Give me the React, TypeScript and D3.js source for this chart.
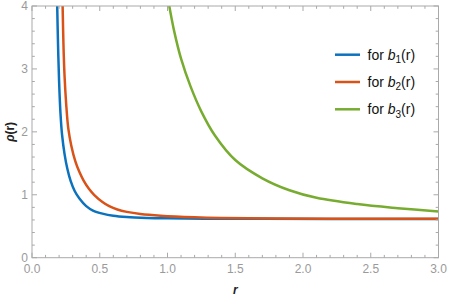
import { useEffect, useRef } from "react";
import * as d3 from "d3";

type Pt = [number, number];

// (r, rho)
const seriesB1: Pt[] = [
  [0.186, 4.0], [0.192, 3.4], [0.2, 2.8], [0.21, 2.3], [0.222, 1.95], [0.24, 1.65],
  [0.26, 1.42], [0.285, 1.22], [0.315, 1.06], [0.35, 0.94], [0.4, 0.82], [0.45, 0.75],
  [0.52, 0.7], [0.6, 0.665], [0.7, 0.645], [0.85, 0.632], [1.0, 0.626], [1.3, 0.62],
  [1.7, 0.618], [2.2, 0.617], [3.0, 0.616]
];
const seriesB2: Pt[] = [
  [0.226, 4.0], [0.232, 3.4], [0.24, 2.9], [0.252, 2.45], [0.268, 2.05], [0.29, 1.78],
  [0.32, 1.53], [0.35, 1.36], [0.38, 1.23], [0.42, 1.095], [0.46, 0.995], [0.52, 0.885],
  [0.57, 0.818], [0.63, 0.765], [0.7, 0.728], [0.8, 0.695], [0.95, 0.668], [1.2, 0.643],
  [1.4, 0.632], [1.8, 0.623], [2.4, 0.619], [3.0, 0.618]
];
const seriesB3: Pt[] = [
  [1.013, 4.0], [1.05, 3.593], [1.1, 3.163], [1.17, 2.722], [1.25, 2.322], [1.35, 1.942],
  [1.5, 1.552], [1.7, 1.262], [1.9, 1.072], [2.1, 0.952], [2.4, 0.853], [2.7, 0.787],
  [3.0, 0.733]
];

const legendSubs = ["1", "2", "3"];
const colors = ["#0c72bd", "#d95319", "#77ac30"];
const xMajor = [0, 0.5, 1, 1.5, 2, 2.5, 3];
const yMajor = [0, 1, 2, 3, 4];

export default function App() {
  const ref = useRef<SVGSVGElement | null>(null);

  useEffect(() => {
    const svg = d3.select(ref.current);
    const W = 449, H = 298;
    const m = { l: 32, r: 10.5, t: 6, b: 40.3 };
    svg.selectAll("*").remove();

    const x = d3.scaleLinear().domain([0, 3]).range([m.l, W - m.r]);
    const y = d3.scaleLinear().domain([0, 4]).range([H - m.b, m.t]);

    const frame = "#a9a9a9";
    const labelColor = "#9a9a9a";
    const font = "'Liberation Sans', Arial, sans-serif";

    svg.append("defs").append("clipPath").attr("id", "plotclip")
      .append("rect")
      .attr("x", m.l).attr("y", m.t)
      .attr("width", W - m.l - m.r).attr("height", H - m.t - m.b);

    // curves
    const line = d3.line<Pt>()
      .x(d => x(d[0]))
      .y(d => y(d[1]))
      .curve(d3.curveCatmullRom.alpha(0.5));

    const g = svg.append("g").attr("clip-path", "url(#plotclip)");
    [seriesB1, seriesB2, seriesB3].forEach((s, i) => {
      g.append("path")
        .datum(s)
        .attr("d", line)
        .attr("fill", "none")
        .attr("stroke", colors[i])
        .attr("stroke-width", 2.5)
        .attr("stroke-linejoin", "round");
    });

    // frame
    svg.append("rect")
      .attr("x", m.l).attr("y", m.t)
      .attr("width", W - m.l - m.r).attr("height", H - m.t - m.b)
      .attr("fill", "none")
      .attr("stroke", frame)
      .attr("stroke-width", 1);

    const x0 = x(0), x1 = x(3), y0 = y(0), y1 = y(4);
    const ticks = svg.append("g").attr("stroke", frame).attr("stroke-width", 1);

    // x ticks on bottom and top
    d3.range(0, 31).map(i => i / 10).forEach(v => {
      const major = Math.abs(v * 2 - Math.round(v * 2)) < 1e-6;
      const len = major ? 5 : 2.8;
      const px = x(v);
      ticks.append("line").attr("x1", px).attr("x2", px).attr("y1", y0).attr("y2", y0 - len);
      ticks.append("line").attr("x1", px).attr("x2", px).attr("y1", y1).attr("y2", y1 + len);
    });
    // y ticks on left and right
    d3.range(0, 21).map(i => i / 5).forEach(v => {
      const major = Math.abs(v - Math.round(v)) < 1e-6;
      const len = major ? 5 : 2.8;
      const py = y(v);
      ticks.append("line").attr("x1", x0).attr("x2", x0 + len).attr("y1", py).attr("y2", py);
      ticks.append("line").attr("x1", x1).attr("x2", x1 - len).attr("y1", py).attr("y2", py);
    });

    // tick labels
    svg.append("g").selectAll("text").data(xMajor).enter().append("text")
      .attr("x", d => x(d))
      .attr("y", y0 + 15.5)
      .attr("text-anchor", "middle")
      .attr("font-family", font)
      .attr("font-size", 12)
      .attr("fill", labelColor)
      .text(d => d.toFixed(1));

    svg.append("g").selectAll("text").data(yMajor).enter().append("text")
      .attr("x", x0 - 4)
      .attr("y", d => y(d) + 4)
      .attr("text-anchor", "end")
      .attr("font-family", font)
      .attr("font-size", 12)
      .attr("fill", labelColor)
      .text(d => String(d));

    // axis titles
    svg.append("text")
      .attr("x", x(1.5))
      .attr("y", 294)
      .attr("text-anchor", "middle")
      .attr("font-family", font)
      .attr("font-size", 12)
      .attr("font-style", "italic")
      .attr("font-weight", "bold")
      .attr("fill", "#222")
      .text("r");

    svg.append("text")
      .attr("transform", `translate(14,${y(2)}) rotate(-90)`)
      .attr("text-anchor", "middle")
      .attr("font-family", font)
      .attr("font-size", 12)
      .attr("font-weight", "bold")
      .attr("fill", "#222")
      .call(t => {
        t.append("tspan").attr("font-style", "italic").text("ρ");
        t.append("tspan").text("(r)");
      });

    // legend
    const leg = svg.append("g");
    legendSubs.forEach((s, i) => {
      const ly = 54.7 + i * 27.3;
      leg.append("line")
        .attr("x1", 335).attr("x2", 360)
        .attr("y1", ly).attr("y2", ly)
        .attr("stroke", colors[i])
        .attr("stroke-width", 2.5);
      const t = leg.append("text")
        .attr("x", 367.5)
        .attr("y", ly + 4.8)
        .attr("font-family", font)
        .attr("font-size", 14)
        .attr("fill", "#111");
      t.append("tspan").text("for ");
      t.append("tspan").attr("font-style", "italic").text("b");
      t.append("tspan").attr("font-size", 10).attr("dy", 3.5).text(s);
      t.append("tspan").attr("dy", -3.5).text("(r)");
    });
  }, []);

  return (
    <svg
      ref={ref}
      width={449}
      height={298}
      style={{ position: "absolute", left: 0, top: 0, background: "#fff" }}
    />
  );
}
